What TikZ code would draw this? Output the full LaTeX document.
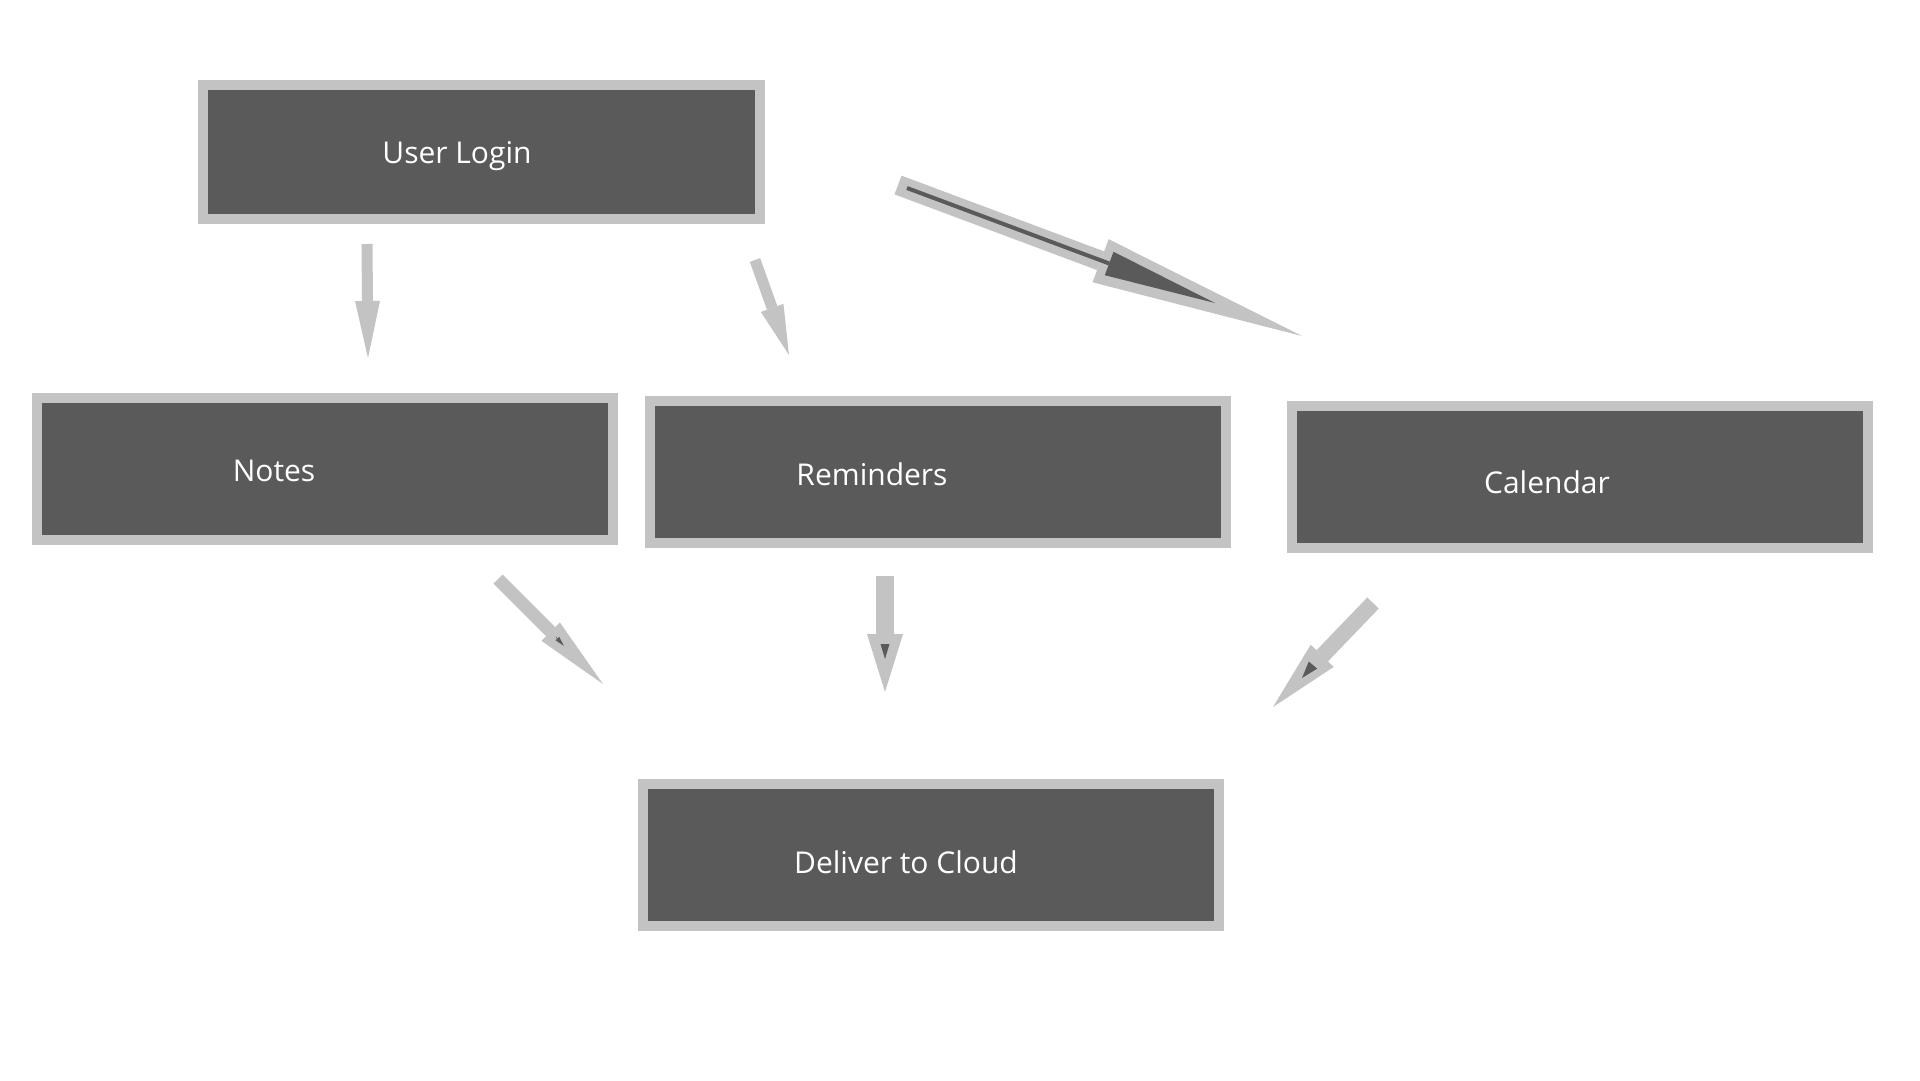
\documentclass[tikz,border=0pt]{standalone}
\usepackage{fontspec}
\setmainfont{Open Sans}
\usetikzlibrary{arrows.meta}
\definecolor{boxfill}{HTML}{5A5A5A}
\definecolor{boxline}{HTML}{C3C3C3}
\tikzset{
    box/.style={draw=boxline, fill=boxfill, line width=10pt, inner sep=0pt,
                minimum width=576pt, minimum height=142pt},
    boxtext/.style={text=white, inner sep=0pt, font=\fontsize{30}{36}\selectfont},
    flow/.style n args={3}{line width=#1, color=boxline,
                -{Triangle[length=#2, width=#3, line width=0pt]}},
    darkflow/.style n args={3}{line width=#1, color=boxfill,
                -{Triangle[length=#2, width=#3, line width=0pt]}},
}

\begin{document}
\begin{tikzpicture}[x=1pt, y=-1pt]
                \useasboundingbox (0, 0) rectangle (1920, 1080);
                \node[box, minimum width=557pt, minimum height=134pt] (login) at (481.5, 151.5) {};
                \node[box] (notes) at (325, 469) {};
                \node[box] (reminders) at (938, 472) {};
                \node[box] (calendar) at (1580, 476.5) {};
                \node[box] (cloud) at (931, 855) {};
                \node[boxtext] (login-txt) at (457, 156) {User Login};
                \node[boxtext] (notes-txt) at (274, 471) {Notes};
                \node[boxtext] (reminders-txt) at (872, 474) {Reminders};
                \node[boxtext] (calendar-txt) at (1547, 482) {Calendar};
                \node[boxtext] (cloud-txt) at (906, 862) {Deliver to Cloud};
                \coordinate (ln-s) at (367, 244);
                \coordinate (ln-e) at (368, 358);
                \coordinate (lr-s) at (755, 260);
                \coordinate (lr-e) at (789, 355);
                \coordinate (lc-s) at (898, 185);
                \coordinate (lc-e) at (1302, 336);
                \coordinate (lc-in-s) at (907, 188);
                \coordinate (lc-in-e) at (1215, 303);
                \coordinate (nc-s) at (498, 579);
                \coordinate (nc-e) at (603, 684);
                \coordinate (nc-in-s) at (556, 637);
                \coordinate (nc-in-e) at (564, 646);
                \coordinate (rc-s) at (885, 576);
                \coordinate (rc-e) at (885, 692);
                \coordinate (rc-in-s) at (885, 644);
                \coordinate (rc-in-e) at (885, 659);
                \coordinate (cc-s) at (1373, 603);
                \coordinate (cc-e) at (1273, 707);
                \coordinate (cc-in-s) at (1313, 665);
                \coordinate (cc-in-e) at (1302, 678);
                \draw[flow={11pt}{57pt}{25pt}] (ln-s) -- (ln-e);
                \draw[flow={11pt}{50pt}{24pt}] (lr-s) -- (lr-e);
                \draw[flow={20pt}{215pt}{46pt}] (lc-s) -- (lc-e);
                \draw[darkflow={4pt}{113pt}{25pt}] (lc-in-s) -- (lc-in-e);
                \draw[flow={13pt}{74pt}{26pt}] (nc-s) -- (nc-e);
                \draw[darkflow={0.5pt}{10pt}{5pt}] (nc-in-s) -- (nc-in-e);
                \draw[flow={18pt}{58pt}{36pt}] (rc-s) -- (rc-e);
                \draw[darkflow={0.5pt}{15pt}{9pt}] (rc-in-s) -- (rc-in-e);
                \draw[flow={16pt}{71pt}{32pt}] (cc-s) -- (cc-e);
                \draw[darkflow={0.5pt}{17pt}{11pt}] (cc-in-s) -- (cc-in-e);
            \end{tikzpicture}
\end{document}
